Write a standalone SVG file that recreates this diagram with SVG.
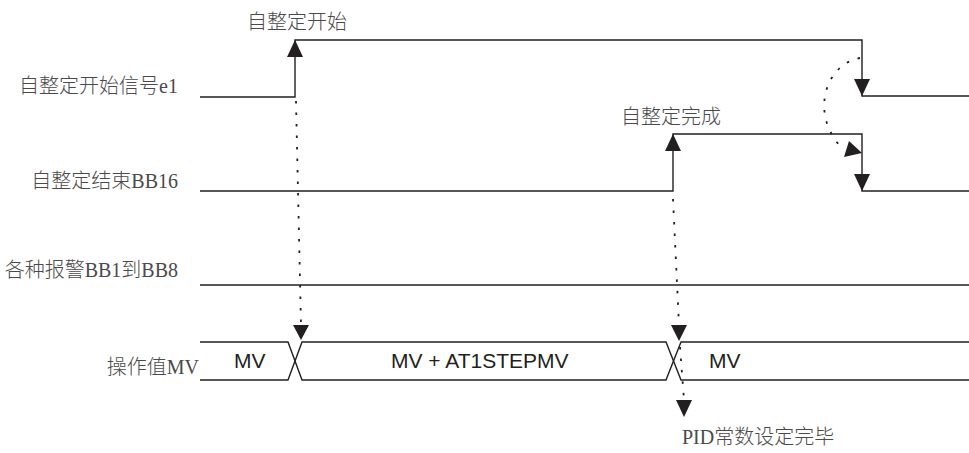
<svg xmlns="http://www.w3.org/2000/svg" width="969" height="453" viewBox="0 0 969 453">
<style>
.lbl{font-family:"Liberation Serif","Noto Sans CJK SC",serif;font-size:20px;font-weight:300;fill:#4a4a4a}
.val{font-family:"Liberation Sans",Arial,sans-serif;font-size:21px;fill:#231f20}
.wave{fill:none;stroke:#231f20;stroke-width:1.4}
.dot{fill:none;stroke:#231f20;stroke-width:1.8;stroke-dasharray:2.5 9}
.head{fill:#231f20}
</style>
<rect width="969" height="453" fill="#ffffff"/>
<g id="sig-start">
<text class="lbl" x="178" y="92.5" text-anchor="end">自整定开始信号e1</text>
<path class="wave" d="M200,97 H295 V40 H862 V96 H969"/>
</g>
<g id="sig-end">
<text class="lbl" x="178" y="188" text-anchor="end">自整定结束BB16</text>
<path class="wave" d="M200,191 H673 V134 H862 V191 H969"/>
</g>
<g id="sig-alarm">
<text class="lbl" x="178" y="277" text-anchor="end">各种报警BB1到BB8</text>
<path class="wave" d="M200,285 H969"/>
</g>
<g id="sig-mv">
<text class="lbl" x="199" y="374" text-anchor="end">操作值MV</text>
<path class="wave" d="M200,342 H288 L302,380 H666 L681,342 H969"/>
<path class="wave" d="M200,380 H288 L302,342 H666 L681,380 H969"/>
<text class="val" x="234" y="368">MV</text>
<text class="val" x="391" y="368">MV + AT1STEPMV</text>
<text class="val" x="709" y="368">MV</text>
</g>
<g id="event-labels">
<text class="lbl" x="247" y="29">自整定开始</text>
<text class="lbl" x="621" y="124">自整定完成</text>
<text class="lbl" x="682" y="444">PID常数设定完毕</text>
</g>
<g id="connectors">
<polygon class="head" points="295,40 287,57 303,57"/>
<polygon class="head" points="673,134 665,151 681,151"/>
<polygon class="head" points="862,96 854,79 870,79"/>
<polygon class="head" points="862,191 854,174 870,174"/>
<path class="dot" d="M296,101 L301,325"/>
<polygon class="head" points="301,340 293,325 309,325"/>
<path class="dot" d="M673,199 L679,325"/>
<polygon class="head" points="679,341 671,325 687,325"/>
<path class="dot" d="M680,347 L684,400"/>
<polygon class="head" points="684,417 676,400 692,400"/>
<path class="dot" d="M860,58 C826,64 810,112 840,146"/>
<polygon class="head" points="862,153 844,157 849,141"/>
</g>
</svg>
